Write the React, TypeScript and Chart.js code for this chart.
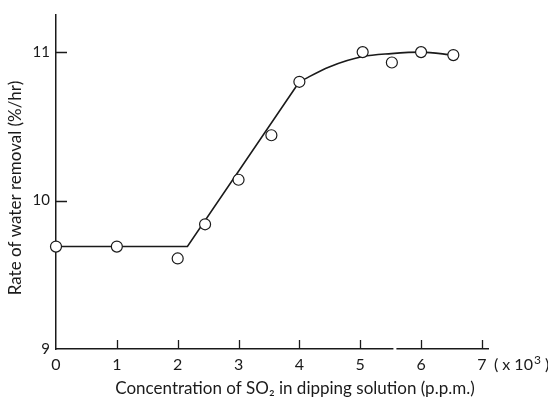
import React, { useEffect, useRef } from "react";
import { Chart, registerables } from "chart.js";

Chart.register(...registerables);

// Measured SO2 concentration (x10^3 p.p.m.) and rate of water removal (%/hr)
const concentration = [0, 1.0, 2.0, 2.45, 3.0, 3.54, 4.0, 5.04, 5.52, 6.0, 6.53];
const removalRate = [9.69, 9.69, 9.61, 9.84, 10.14, 10.44, 10.8, 11.0, 10.93, 11.0, 10.98];

// Fitted response: flat, then linear rise
const fitLineX = [0, 2.16, 4.0];
const fitLineY = [9.69, 9.69, 10.8];
// Fitted response: levelling-off plateau
const fitCurveX = [4.0, 4.49, 5.04, 5.51, 6.0, 6.53];
const fitCurveY = [10.8, 10.9, 10.97, 10.99, 11.0, 10.98];

const xTicks = [0, 1, 2, 3, 4, 5, 6, 7];
const yTicks = [9, 10, 11];
const xMin = 0;
const xMax = 7.1;
const yMin = 9;
const yMax = 11.25;
const axisBreakAt = 5.57;

const xTitle = "Concentration of SO\u2082 in dipping solution (p.p.m.)";
const yTitle = "Rate of water removal (%/hr)";
// x-axis multiplier, written as "( x 10" + superscript "3" + " )"
const multiplierBase = "( x 10";
const multiplierExp = "3";
const multiplierClose = " )";

const INK = "#1a1a1a";
const FONT = "Lato, 'DejaVu Sans', sans-serif";

const toPoints = (xs: number[], ys: number[]) => xs.map((x, i) => ({ x, y: ys[i] }));

// Inward tick marks, the break in the x axis, multiplier and axis titles
const axisDecor = {
  id: "axisDecor",
  afterDraw(chart: any) {
    const { ctx, chartArea, scales } = chart;
    const xs = scales.x;
    const ys = scales.y;
    ctx.save();
    ctx.strokeStyle = INK;
    ctx.lineWidth = 1.3;
    ctx.beginPath();
    xTicks.filter((v) => v > xMin).forEach((v) => {
      const px = Math.round(xs.getPixelForValue(v)) + 0.5;
      ctx.moveTo(px, chartArea.bottom);
      ctx.lineTo(px, chartArea.bottom - 9);
    });
    yTicks.filter((v) => v > yMin).forEach((v) => {
      const py = Math.round(ys.getPixelForValue(v)) + 0.5;
      ctx.moveTo(chartArea.left, py);
      ctx.lineTo(chartArea.left + 11, py);
    });
    ctx.stroke();

    const bx = xs.getPixelForValue(axisBreakAt);
    ctx.fillStyle = "#ffffff";
    ctx.fillRect(bx - 1.5, chartArea.bottom - 3, 3, 6);

    // multiplier next to the last x tick label
    ctx.fillStyle = INK;
    ctx.textBaseline = "alphabetic";
    ctx.textAlign = "left";
    let mx = xs.getPixelForValue(xTicks[xTicks.length - 1]) + 12;
    const my = chartArea.bottom + 21;
    ctx.font = `16px ${FONT}`;
    ctx.fillText(multiplierBase, mx, my);
    mx += ctx.measureText(multiplierBase).width + 1;
    ctx.font = `12px ${FONT}`;
    ctx.fillText(multiplierExp, mx, my - 6);
    mx += ctx.measureText(multiplierExp).width;
    ctx.font = `16px ${FONT}`;
    ctx.fillText(multiplierClose, mx, my);

    ctx.font = `17px ${FONT}`;
    ctx.textAlign = "center";
    ctx.fillText(xTitle, (chartArea.left + chartArea.right) / 2 + 23, chartArea.bottom + 45);

    ctx.translate(chartArea.left - 35, (chartArea.top + chartArea.bottom) / 2 + 6);
    ctx.rotate(-Math.PI / 2);
    ctx.fillText(yTitle, 0, 0);
    ctx.restore();
  },
};

export default function App() {
  const canvasRef = useRef<HTMLCanvasElement | null>(null);

  useEffect(() => {
    if (!canvasRef.current) return;
    const chart = new Chart(canvasRef.current, {
      type: "scatter",
      data: {
        datasets: [
          {
            label: "observed",
            data: toPoints(concentration, removalRate),
            showLine: false,
            pointRadius: 5.5,
            pointHoverRadius: 5.5,
            pointBorderWidth: 1.2,
            pointBackgroundColor: "#ffffff",
            pointBorderColor: INK,
            order: 0,
            clip: false,
          },
          {
            label: "fit-linear",
            data: toPoints(fitLineX, fitLineY),
            showLine: true,
            tension: 0,
            borderColor: INK,
            borderWidth: 1.6,
            pointRadius: 0,
            order: 1,
            clip: false,
          },
          {
            label: "fit-plateau",
            data: toPoints(fitCurveX, fitCurveY),
            showLine: true,
            cubicInterpolationMode: "monotone",
            borderColor: INK,
            borderWidth: 1.6,
            pointRadius: 0,
            order: 1,
            clip: false,
          },
        ],
      },
      options: {
        animation: false,
        responsive: false,
        devicePixelRatio: 1,
        layout: { padding: { top: 7, right: 60, left: 0, bottom: 0 } },
        plugins: { legend: { display: false }, tooltip: { enabled: false } },
        scales: {
          x: {
            type: "linear",
            min: xMin,
            max: xMax,
            grid: { display: false, drawTicks: false },
            border: { display: true, color: INK, width: 1.5 },
            afterBuildTicks: (scale: any) => {
              scale.ticks = xTicks.map((value) => ({ value }));
            },
            afterFit: (scale: any) => {
              scale.height = 51;
            },
            ticks: {
              color: INK,
              font: { family: FONT, size: 16 },
              padding: 6,
              maxRotation: 0,
              autoSkip: false,
              callback: (v: any) => String(v),
            },
          },
          y: {
            type: "linear",
            min: yMin,
            max: yMax,
            grid: { display: false, drawTicks: false },
            border: { display: true, color: INK, width: 1.5 },
            afterBuildTicks: (scale: any) => {
              scale.ticks = yTicks.map((value) => ({ value }));
            },
            afterFit: (scale: any) => {
              scale.width = 56;
            },
            ticks: {
              color: INK,
              font: { family: FONT, size: 15 },
              padding: 6,
              autoSkip: false,
              callback: (v: any) => String(v),
            },
          },
        },
      },
      plugins: [axisDecor],
    });
    return () => chart.destroy();
  }, []);

  return (
    <div style={{ position: "fixed", left: 0, top: 0, width: 548, height: 400, background: "#fff" }}>
      <canvas ref={canvasRef} width={548} height={400} style={{ width: 548, height: 400 }} />
    </div>
  );
}
